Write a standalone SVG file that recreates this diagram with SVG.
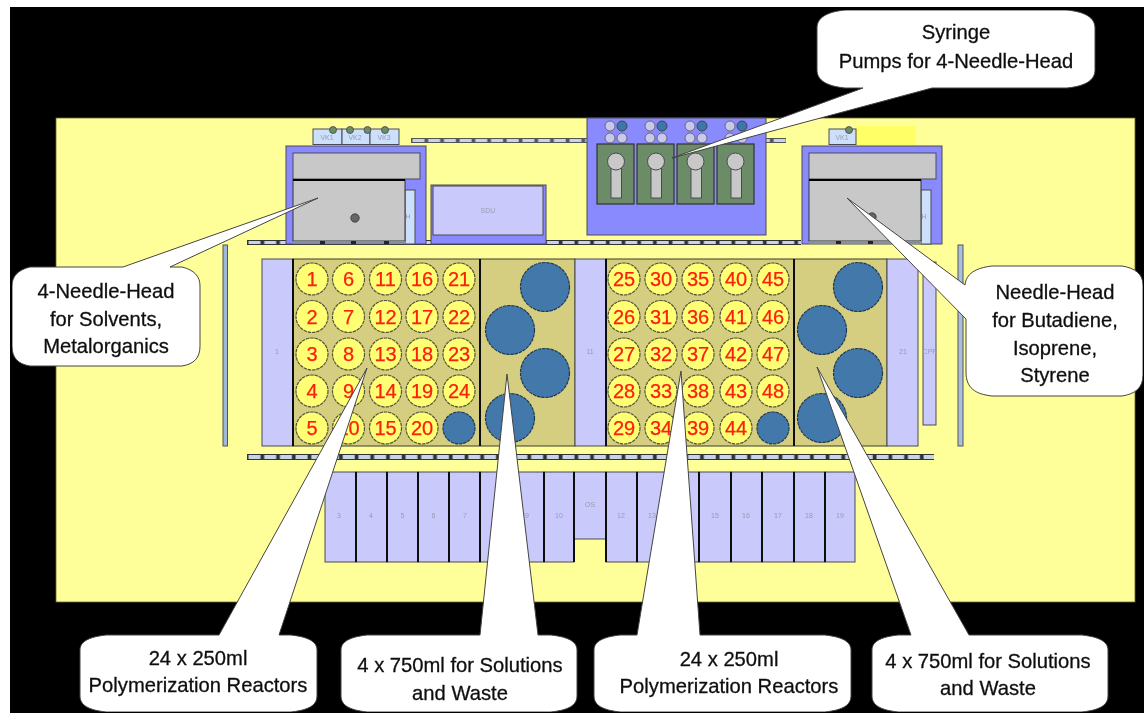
<svg xmlns="http://www.w3.org/2000/svg" width="1144" height="714" viewBox="0 0 1144 714">
<style>
.o{stroke:#4a4a55;stroke-width:1}
.lav{fill:#c9c9fb}
.blu{fill:#8a8aff}
.gry{fill:#c8c8c8}
.lb{fill:#cde0fb}
.pl{fill:#d5cd80;stroke:#3c3c30;stroke-width:1}
.dv{stroke:#111;stroke-width:2}
.r{fill:#ffff73;stroke:#55553a;stroke-width:1.2;stroke-dasharray:3.5 .8}
.bv{fill:#4278aa;stroke:#223a55;stroke-width:1.2;stroke-dasharray:3.5 .8}
.n{font:20px "Liberation Sans",Arial,sans-serif;fill:#fa2010;stroke:#fa2010;stroke-width:.25;text-anchor:middle}
.s{font:7px "Liberation Sans",Arial,sans-serif;fill:#9a9ab0;text-anchor:middle}
.c{font:20.2px "Liberation Sans",Arial,sans-serif;fill:#111;stroke:#111;stroke-width:.3;text-anchor:middle}
.cal{fill:#fff;stroke:#444;stroke-width:1}
.pc{fill:#c8c8e8;stroke:#556;stroke-width:.8}
.grn{fill:#6c8c68;stroke:#333;stroke-width:1.2}
.gd{fill:#6c8c68;stroke:#445;stroke-width:.8}
.tick{fill:#223}
</style>
<defs>
<pattern id="rail" width="15.7" height="6" patternUnits="userSpaceOnUse" x="247" y="454">
<rect width="15.7" height="6" fill="#333"/><rect x="1.500" y="1" width="12" height="4" fill="#c5d4ea"/>
</pattern>
<pattern id="rail2" width="15.7" height="5" patternUnits="userSpaceOnUse" x="247" y="240">
<rect width="15.7" height="5" fill="#333"/><rect x="1.500" y="1" width="12" height="3" fill="#c5d4ea"/>
</pattern>
<pattern id="rail3" width="15.7" height="5" patternUnits="userSpaceOnUse" x="411" y="138">
<rect width="15.7" height="5" fill="#555"/><rect x="1.500" y="1" width="12" height="3" fill="#c5d4ea"/>
</pattern>
<filter id="soft" x="0" y="0" width="100%" height="100%"><feGaussianBlur stdDeviation="0.45"/></filter>
</defs>
<rect width="1144" height="714" fill="#fff"/>
<rect x="10" y="7" width="1134" height="706" fill="#000"/>
<g filter="url(#soft)">
<rect id="deck" x="56" y="118" width="1079" height="484" fill="#ffff99" stroke="#666630" stroke-width=".8"/>

<g id="rails">
<rect x="411" y="138" width="176" height="5" fill="url(#rail3)"/>
<rect x="766" y="138" width="20" height="5" fill="url(#rail3)"/>
<rect x="247" y="240" width="554" height="5" fill="url(#rail2)"/>
<rect x="247" y="454" width="687" height="6" fill="url(#rail)"/>
<rect x="223" y="245" width="4.5" height="201" fill="#a0b8d8" stroke="#555" stroke-width="1"/>
<rect x="958" y="245" width="5" height="201" fill="#a8c0de" stroke="#555" stroke-width="1"/>
</g>

<g id="valves-left">
<rect class="lb o" x="313" y="129" width="29" height="15.500"/>
<rect class="lb o" x="342" y="129" width="28" height="15.500"/>
<rect class="lb o" x="370" y="129" width="29" height="15.500"/>
<text class="s" x="327" y="140">VK1</text><text class="s" x="355" y="140">VK2</text><text class="s" x="384" y="140">VK3</text>
<circle class="gd" cx="333" cy="130" r="3.500"/><circle class="gd" cx="350" cy="130" r="3.500"/><circle class="gd" cx="367.500" cy="130" r="3.500"/><circle class="gd" cx="385" cy="130" r="3.500"/>
</g>

<g id="head-left">
<rect class="blu o" x="286" y="146" width="140" height="98"/>
<rect class="gry o" x="293" y="153" width="127" height="26"/>
<rect class="lb o" x="405" y="190" width="10" height="54"/>
<text class="s" x="408" y="219">H</text>
<rect class="gry" x="293" y="180" width="112" height="61" stroke="#333" stroke-width="1"/>
<line x1="293" y1="180" x2="405" y2="180" stroke="#000" stroke-width="2"/>
<rect x="293" y="241" width="112" height="3" fill="#8090a0"/>
<rect class="tick" x="320" y="241" width="5" height="3"/><rect class="tick" x="351" y="241" width="5" height="3"/><rect class="tick" x="384" y="241" width="5" height="3"/>
<circle cx="355" cy="218" r="4.200" fill="#666" stroke="#333" stroke-width=".8"/>
</g>

<g id="sdu">
<rect class="blu o" x="431" y="185" width="115" height="59"/>
<rect class="lav o" x="433" y="186" width="110" height="49"/>
<text class="s" x="488" y="213">SDU</text>
</g>

<g id="pumps">
<rect class="blu o" x="587" y="118" width="179" height="117"/>
<circle class="pc" cx="610" cy="126" r="5"/><circle class="pc" cx="610" cy="138" r="5"/><circle class="pc" cx="622" cy="138" r="5"/><circle cx="622" cy="126" r="5" fill="#3a78a8" stroke="#445"/>
<circle class="pc" cx="650" cy="126" r="5"/><circle class="pc" cx="650" cy="138" r="5"/><circle class="pc" cx="662" cy="138" r="5"/><circle cx="662" cy="126" r="5" fill="#3a78a8" stroke="#445"/>
<circle class="pc" cx="690" cy="126" r="5"/><circle class="pc" cx="690" cy="138" r="5"/><circle class="pc" cx="702" cy="138" r="5"/><circle cx="702" cy="126" r="5" fill="#3a78a8" stroke="#445"/>
<circle class="pc" cx="730" cy="126" r="5"/><circle class="pc" cx="730" cy="138" r="5"/><circle class="pc" cx="742" cy="138" r="5"/><circle cx="742" cy="126" r="5" fill="#3a78a8" stroke="#445"/>
<rect class="grn" x="597" y="144" width="37" height="60"/><rect class="grn" x="637" y="144" width="37" height="60"/><rect class="grn" x="677" y="144" width="37" height="60"/><rect class="grn" x="717" y="144" width="37" height="60"/>
<rect class="gry o" x="611" y="168" width="10.500" height="30"/><circle class="gry o" cx="616" cy="161.500" r="8.500"/>
<rect class="gry o" x="651" y="168" width="10.500" height="30"/><circle class="gry o" cx="656" cy="161.500" r="8.500"/>
<rect class="gry o" x="691" y="168" width="10.500" height="30"/><circle class="gry o" cx="695.500" cy="161.500" r="8.500"/>
<rect class="gry o" x="731" y="168" width="10.500" height="30"/><circle class="gry o" cx="735.500" cy="161.500" r="8.500"/>
</g>

<g id="valves-right">
<rect x="856" y="126" width="60" height="19" fill="#ffff66"/>
<rect class="lb o" x="829" y="129" width="27" height="15.500"/>
<text class="s" x="842" y="140">VK1</text>
<circle class="gd" cx="849" cy="130" r="3.500"/>
</g>

<g id="head-right">
<rect class="blu o" x="802" y="146" width="140" height="98"/>
<rect class="gry o" x="809" y="153" width="127" height="26"/>
<rect class="lb o" x="921" y="190" width="10" height="54"/>
<text class="s" x="924" y="219">H</text>
<rect class="gry" x="809" y="180" width="112" height="61" stroke="#333" stroke-width="1"/>
<line x1="809" y1="180" x2="921" y2="180" stroke="#000" stroke-width="2"/>
<rect x="809" y="241" width="112" height="3" fill="#8090a0"/>
<rect class="tick" x="836" y="241" width="5" height="3"/><rect class="tick" x="868" y="241" width="5" height="3"/>
<circle cx="872" cy="217" r="4.200" fill="#666" stroke="#333" stroke-width=".8"/>
</g>

<g id="plate-1">
<rect class="lav o" x="262" y="259" width="31" height="187"/>
<text class="s" x="277" y="354">1</text>
<rect class="pl" x="293" y="259" width="282" height="187"/>
<line class="dv" x1="293" y1="259" x2="293" y2="446"/><line class="dv" x1="480" y1="259" x2="480" y2="446"/>
<circle class="r" cx="312" cy="279" r="16"/><circle class="r" cx="348.500" cy="279" r="16"/><circle class="r" cx="385.500" cy="279" r="16"/><circle class="r" cx="422" cy="279" r="16"/><circle class="r" cx="459" cy="279" r="16"/>
<circle class="r" cx="312" cy="316.500" r="16"/><circle class="r" cx="348.500" cy="316.500" r="16"/><circle class="r" cx="385.500" cy="316.500" r="16"/><circle class="r" cx="422" cy="316.500" r="16"/><circle class="r" cx="459" cy="316.500" r="16"/>
<circle class="r" cx="312" cy="354" r="16"/><circle class="r" cx="348.500" cy="354" r="16"/><circle class="r" cx="385.500" cy="354" r="16"/><circle class="r" cx="422" cy="354" r="16"/><circle class="r" cx="459" cy="354" r="16"/>
<circle class="r" cx="312" cy="391" r="16"/><circle class="r" cx="348.500" cy="391" r="16"/><circle class="r" cx="385.500" cy="391" r="16"/><circle class="r" cx="422" cy="391" r="16"/><circle class="r" cx="459" cy="391" r="16"/>
<circle class="r" cx="312" cy="428" r="16"/><circle class="r" cx="348.500" cy="428" r="16"/><circle class="r" cx="385.500" cy="428" r="16"/><circle class="r" cx="422" cy="428" r="16"/><circle class="bv" cx="459" cy="428" r="16"/>
<text class="n" x="312" y="286">1</text><text class="n" x="348.500" y="286">6</text><text class="n" x="385.500" y="286">11</text><text class="n" x="422" y="286">16</text><text class="n" x="459" y="286">21</text>
<text class="n" x="312" y="323.500">2</text><text class="n" x="348.500" y="323.500">7</text><text class="n" x="385.500" y="323.500">12</text><text class="n" x="422" y="323.500">17</text><text class="n" x="459" y="323.500">22</text>
<text class="n" x="312" y="361">3</text><text class="n" x="348.500" y="361">8</text><text class="n" x="385.500" y="361">13</text><text class="n" x="422" y="361">18</text><text class="n" x="459" y="361">23</text>
<text class="n" x="312" y="398">4</text><text class="n" x="348.500" y="398">9</text><text class="n" x="385.500" y="398">14</text><text class="n" x="422" y="398">19</text><text class="n" x="459" y="398">24</text>
<text class="n" x="312" y="435">5</text><text class="n" x="348.500" y="435">10</text><text class="n" x="385.500" y="435">15</text><text class="n" x="422" y="435">20</text>
<circle class="bv" cx="545" cy="287" r="24.500"/><circle class="bv" cx="510" cy="330" r="24.500"/><circle class="bv" cx="545" cy="373" r="24.500"/><circle class="bv" cx="510" cy="418" r="24.500"/>
</g>

<g id="plate-2">
<rect class="lav o" x="575" y="259" width="31" height="187"/>
<text class="s" x="590" y="354">11</text>
<rect class="pl" x="606" y="259" width="281" height="187"/>
<line class="dv" x1="606" y1="259" x2="606" y2="446"/><line class="dv" x1="794" y1="259" x2="794" y2="446"/>
<circle class="r" cx="624" cy="279" r="16"/><circle class="r" cx="661" cy="279" r="16"/><circle class="r" cx="698" cy="279" r="16"/><circle class="r" cx="736" cy="279" r="16"/><circle class="r" cx="773" cy="279" r="16"/>
<circle class="r" cx="624" cy="316.500" r="16"/><circle class="r" cx="661" cy="316.500" r="16"/><circle class="r" cx="698" cy="316.500" r="16"/><circle class="r" cx="736" cy="316.500" r="16"/><circle class="r" cx="773" cy="316.500" r="16"/>
<circle class="r" cx="624" cy="354" r="16"/><circle class="r" cx="661" cy="354" r="16"/><circle class="r" cx="698" cy="354" r="16"/><circle class="r" cx="736" cy="354" r="16"/><circle class="r" cx="773" cy="354" r="16"/>
<circle class="r" cx="624" cy="391" r="16"/><circle class="r" cx="661" cy="391" r="16"/><circle class="r" cx="698" cy="391" r="16"/><circle class="r" cx="736" cy="391" r="16"/><circle class="r" cx="773" cy="391" r="16"/>
<circle class="r" cx="624" cy="428" r="16"/><circle class="r" cx="661" cy="428" r="16"/><circle class="r" cx="698" cy="428" r="16"/><circle class="r" cx="736" cy="428" r="16"/><circle class="bv" cx="773" cy="428" r="16"/>
<text class="n" x="624" y="286">25</text><text class="n" x="661" y="286">30</text><text class="n" x="698" y="286">35</text><text class="n" x="736" y="286">40</text><text class="n" x="773" y="286">45</text>
<text class="n" x="624" y="323.500">26</text><text class="n" x="661" y="323.500">31</text><text class="n" x="698" y="323.500">36</text><text class="n" x="736" y="323.500">41</text><text class="n" x="773" y="323.500">46</text>
<text class="n" x="624" y="361">27</text><text class="n" x="661" y="361">32</text><text class="n" x="698" y="361">37</text><text class="n" x="736" y="361">42</text><text class="n" x="773" y="361">47</text>
<text class="n" x="624" y="398">28</text><text class="n" x="661" y="398">33</text><text class="n" x="698" y="398">38</text><text class="n" x="736" y="398">43</text><text class="n" x="773" y="398">48</text>
<text class="n" x="624" y="435">29</text><text class="n" x="661" y="435">34</text><text class="n" x="698" y="435">39</text><text class="n" x="736" y="435">44</text>
<circle class="bv" cx="858" cy="287" r="24.500"/><circle class="bv" cx="822" cy="330" r="24.500"/><circle class="bv" cx="858" cy="373" r="24.500"/><circle class="bv" cx="822" cy="418" r="24.500"/>
</g>

<g id="right-modules">
<rect class="lav o" x="887" y="259" width="31" height="187"/>
<text class="s" x="903" y="354">21</text>
<rect class="lav o" x="923" y="262" width="13" height="163"/>
<text class="s" x="930" y="354">CPR</text>
</g>

<g id="bottom-modules">
<rect class="lav o" x="325" y="472" width="31" height="90"/><text class="s" x="339" y="518">3</text>
<rect class="lav o" x="356" y="472" width="31" height="90"/><text class="s" x="371" y="518">4</text>
<rect class="lav o" x="387" y="472" width="31" height="90"/><text class="s" x="402.500" y="518">5</text>
<rect class="lav o" x="418" y="472" width="31" height="90"/><text class="s" x="433.500" y="518">6</text>
<rect class="lav o" x="449" y="472" width="31" height="90"/><text class="s" x="465" y="518">7</text>
<rect class="lav o" x="480" y="472" width="32" height="90"/>
<rect class="lav o" x="512" y="472" width="32" height="90"/><text class="s" x="527" y="518">9</text>
<rect class="lav o" x="544" y="472" width="30" height="90"/><text class="s" x="559" y="518">10</text>
<rect class="lav o" x="574" y="472" width="32" height="67"/><text class="s" x="590" y="507">OS</text>
<rect class="lav o" x="606" y="472" width="31" height="90"/><text class="s" x="621" y="518">12</text>
<rect class="lav o" x="637" y="472" width="31" height="90"/><text class="s" x="652" y="518">13</text>
<rect class="lav o" x="668" y="472" width="31" height="90"/>
<rect class="lav o" x="699" y="472" width="32" height="90"/><text class="s" x="715" y="518">15</text>
<rect class="lav o" x="731" y="472" width="31" height="90"/><text class="s" x="746" y="518">16</text>
<rect class="lav o" x="762" y="472" width="32" height="90"/><text class="s" x="778" y="518">17</text>
<rect class="lav o" x="794" y="472" width="31" height="90"/><text class="s" x="809" y="518">18</text>
<rect class="lav o" x="825" y="472" width="30" height="90"/><text class="s" x="840" y="518">19</text>
<path d="M356 472V562M387 472V562M418 472V562M449 472V562M480 472V562M512 472V562M544 472V562M574 472V562M606 472V562M637 472V562M668 472V562M699 472V562M731 472V562M762 472V562M794 472V562M825 472V562" stroke="#111" stroke-width="2" fill="none"/>
</g>

<g id="callout-needle-left">
<path class="cal" d="M30 267H123L318 198L170 267H182C194 270 200 276 200 286V346C200 358 194 364 182 366H30C18 364 12 358 12 346V286C12 276 18 270 30 267Z"/>
<text class="c" x="106" y="298">4-Needle-Head</text><text class="c" x="106" y="326">for Solvents,</text><text class="c" x="106" y="353">Metalorganics</text>
</g>
<g id="callout-syringe">
<path class="cal" d="M845 10H1067C1086 12 1095 18 1095 28V70C1095 80 1086 86 1067 88H932L672 158L863 88H845C826 86 817 80 817 70V28C817 18 826 12 845 10Z"/>
<text class="c" x="956" y="39">Syringe</text><text class="c" x="956" y="68">Pumps for 4-Needle-Head</text>
</g>
<g id="callout-needle-right">
<path class="cal" d="M992 266H1122C1135 268 1143 274 1143 285V375C1143 388 1135 394 1122 396H992C975 394 966 388 966 372V319L847 198L965 285C966 274 975 268 992 266Z"/>
<text class="c" x="1055" y="299">Needle-Head</text><text class="c" x="1055" y="327">for Butadiene,</text><text class="c" x="1055" y="355">Isoprene,</text><text class="c" x="1055" y="382">Styrene</text>
</g>
<g id="callout-reactors-1">
<path class="cal" d="M106 635H219L367 368L279 635H291C309 637 317 642 317 650V696C317 705 309 710 291 712H106C88 710 80 705 80 696V650C80 642 88 637 106 635Z"/>
<text class="c" x="198" y="665">24 x 250ml</text><text class="c" x="198" y="692">Polymerization Reactors</text>
</g>
<g id="callout-solutions-1">
<path class="cal" d="M367 635H480L507 374L538 635H551C569 637 577 642 577 650V696C577 705 569 710 551 712H367C349 710 341 705 341 696V650C341 642 349 637 367 635Z"/>
<text class="c" x="460" y="672">4 x 750ml for Solutions</text><text class="c" x="460" y="700">and Waste</text>
</g>
<g id="callout-reactors-2">
<path class="cal" d="M620 635H637L681 371L700 635H825C843 637 851 642 851 650V696C851 705 843 710 825 712H620C602 710 594 705 594 696V650C594 642 602 637 620 635Z"/>
<text class="c" x="729" y="666">24 x 250ml</text><text class="c" x="729" y="693">Polymerization Reactors</text>
</g>
<g id="callout-solutions-2">
<path class="cal" d="M898 635H911L817 367L969 635H1082C1100 637 1108 642 1108 650V696C1108 705 1100 710 1082 712H898C880 710 872 705 872 696V650C872 642 880 637 898 635Z"/>
<text class="c" x="988" y="668">4 x 750ml for Solutions</text><text class="c" x="988" y="695">and Waste</text>
</g>
</g>
</svg>
